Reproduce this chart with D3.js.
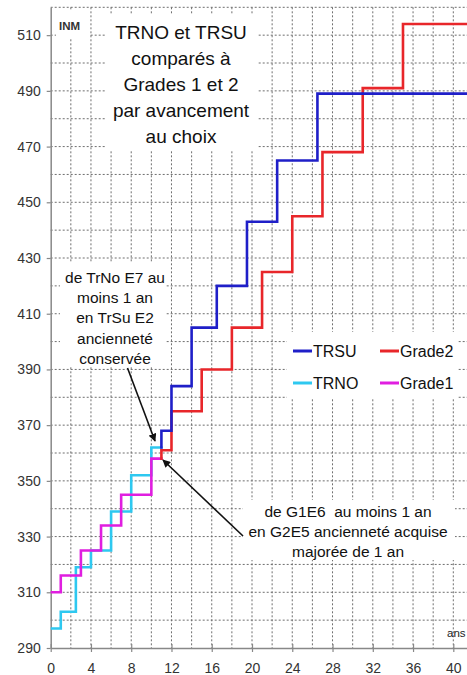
<!DOCTYPE html>
<html><head><meta charset="utf-8">
<script src="https://cdn.jsdelivr.net/npm/d3@7"></script>
<style>
body{margin:0;background:#fff}
text{font-family:Arial,"Liberation Sans",sans-serif}
</style>
</head><body>
<svg id="chart" width="467" height="675"></svg>
<script>
// ---- data ----
const yearTicks = [0,4,8,12,16,20,24,28,32,36,40];
const inmTicks = [290,310,330,350,370,390,410,430,450,470,490,510];

const trnoYears  = [0, 1, 2.5, 4, 6, 8, 10, 11];
const trnoValues = [297, 303, 319, 325, 339, 352, 362, 362];

const grade1Years  = [0, 1, 3, 5, 7, 10, 11];
const grade1Values = [310, 316, 325, 334, 345, 358, 358];

const trsuYears  = [11, 11, 12, 14, 16.5, 19.5, 22.5, 26.5, 41.5];
const trsuValues = [362, 368, 384, 405, 420, 443, 465, 489, 489];

const grade2Years  = [11, 11, 12, 15, 18, 21, 24, 27, 31, 35, 41.5];
const grade2Values = [358, 361, 375, 390, 405, 425, 445, 468, 491, 514, 514];

const seriesNames  = ["TRSU", "Grade2", "TRNO", "Grade1"];
const seriesColors = ["#1f1fc8", "#e8262a", "#2ec8f0", "#e01ee0"];

const titleLines = ["TRNO et TRSU", "comparés à", "Grades 1 et 2", "par avancement", "au choix"];
const note1Lines = ["de TrNo E7 au", "moins 1 an", "en TrSu E2", "ancienneté", "conservée"];
const note2Lines = ["de G1E6  au moins 1 an", "en G2E5 ancienneté acquise", "majorée de 1 an"];

// ---- layout ----
const W = 467, H = 675;
const svg = d3.select("#chart");
const x = d3.scaleLinear().domain([0, 41.4]).range([50.7, 467.4]);
const y = d3.scaleLinear().domain([290, 520]).range([648, 7.3]);

svg.append("rect").attr("width", W).attr("height", H).attr("fill", "#fff");

// grid
const grid = svg.append("g").attr("stroke", "#6e6e6e").attr("stroke-width", 1).attr("stroke-dasharray", "2,2");
grid.selectAll("line.h").data(d3.range(300, 521, 10)).join("line")
  .attr("x1", x(0)).attr("x2", W).attr("y1", d => y(d)).attr("y2", d => y(d));
grid.selectAll("line.v").data(d3.range(2, 41, 2)).join("line")
  .attr("x1", d => x(d)).attr("x2", d => x(d)).attr("y1", y(520)).attr("y2", y(290));

// white backgrounds for text blocks
const boxes = [[56,10,33,28],[106,14,151,136],[60,263,106,104],[287,332,170,67],[243,500,212,60]];
svg.append("g").selectAll("rect").data(boxes).join("rect")
  .attr("x", d => d[0]).attr("y", d => d[1]).attr("width", d => d[2]).attr("height", d => d[3])
  .attr("fill", "#fff");

// axes
const yAxis = svg.append("g").attr("transform", `translate(${x(0)},0)`)
  .call(d3.axisLeft(y).tickValues(inmTicks).tickSizeInner(4).tickSizeOuter(0).tickPadding(6));
yAxis.select(".domain").attr("stroke", "#888").attr("stroke-width", 1.5);
yAxis.selectAll(".tick line").attr("stroke", "#888").attr("stroke-width", 1.2);
yAxis.selectAll(".tick text").attr("font-size", 14).attr("fill", "#333")
  .attr("font-family", "Arial, 'Liberation Sans', sans-serif");

const xAxis = svg.append("g").attr("transform", `translate(0,${y(290)})`)
  .call(d3.axisBottom(x).tickValues(yearTicks).tickSizeInner(4).tickSizeOuter(0).tickPadding(8));
xAxis.select(".domain").attr("stroke", "#888").attr("stroke-width", 1.5);
xAxis.selectAll(".tick line").attr("stroke", "#888").attr("stroke-width", 1.2).attr("y1", -4).attr("y2", 4);
xAxis.selectAll(".tick text").attr("font-size", 14).attr("fill", "#333")
  .attr("font-family", "Arial, 'Liberation Sans', sans-serif").attr("y", 15);

// clip
svg.append("clipPath").attr("id", "plot").append("rect")
  .attr("x", x(0)).attr("y", 0).attr("width", W - x(0)).attr("height", y(290));

// series
const line = d3.line().x(d => x(d[0])).y(d => y(d[1])).curve(d3.curveStepAfter);
const series = [
  {name: "TRNO", years: trnoYears, values: trnoValues, color: seriesColors[2]},
  {name: "Grade1", years: grade1Years, values: grade1Values, color: seriesColors[3]},
  {name: "Grade2", years: grade2Years, values: grade2Values, color: seriesColors[1]},
  {name: "TRSU", years: trsuYears, values: trsuValues, color: seriesColors[0]}
];
svg.append("g").attr("clip-path", "url(#plot)").selectAll("path").data(series).join("path")
  .attr("d", s => line(s.years.map((yr, i) => [yr, s.values[i]])))
  .attr("fill", "none").attr("stroke", s => s.color).attr("stroke-width", 2.6)
  .attr("stroke-linejoin", "miter").attr("stroke-linecap", "square");

// labels
svg.append("text").attr("x", 59).attr("y", 30).attr("font-size", 11.5).attr("font-weight", "bold")
  .attr("fill", "#333").text("INM");
svg.append("text").attr("x", 447).attr("y", 637).attr("font-size", 11.5).attr("fill", "#222").text("ans");

svg.append("g").selectAll("text").data(titleLines).join("text")
  .attr("x", 181).attr("y", (d, i) => 39 + i * 26).attr("text-anchor", "middle")
  .attr("font-size", 19).attr("fill", "#111").text(d => d);

svg.append("g").selectAll("text").data(note1Lines).join("text")
  .attr("x", 115).attr("y", (d, i) => 283 + i * 20.2).attr("text-anchor", "middle")
  .attr("font-size", 15.5).attr("fill", "#111").text(d => d);

svg.append("g").selectAll("text").data(note2Lines).join("text")
  .attr("x", 348).attr("y", (d, i) => 517 + i * 20).attr("text-anchor", "middle")
  .attr("xml:space", "preserve").style("white-space", "pre")
  .attr("font-size", 15.5).attr("fill", "#111").text(d => d);

// arrows
const defs = svg.append("defs");
defs.append("marker").attr("id", "ah").attr("viewBox", "0 0 10 10").attr("refX", 9).attr("refY", 5)
  .attr("markerWidth", 8).attr("markerHeight", 8).attr("markerUnits", "userSpaceOnUse").attr("orient", "auto")
  .append("path").attr("d", "M0,0 L10,5 L0,10 z").attr("fill", "#111");
const arrows = [[127.5, 368, 155, 441], [243, 536, 163, 460]];
svg.append("g").selectAll("line").data(arrows).join("line")
  .attr("x1", d => d[0]).attr("y1", d => d[1]).attr("x2", d => d[2]).attr("y2", d => d[3])
  .attr("stroke", "#111").attr("stroke-width", 1.6).attr("marker-end", "url(#ah)");

// legend
const legendPos = [[293, 351], [380, 351], [293, 383], [380, 383]];
const lg = svg.append("g").selectAll("g").data(seriesNames).join("g")
  .attr("transform", (d, i) => `translate(${legendPos[i][0]},${legendPos[i][1]})`);
lg.append("line").attr("x1", 0).attr("x2", 19).attr("y1", 0).attr("y2", 0)
  .attr("stroke", (d, i) => seriesColors[i]).attr("stroke-width", 3);
lg.append("text").attr("x", 20).attr("y", 6).attr("font-size", 16).attr("fill", "#111").text(d => d);
</script>
</body></html>
